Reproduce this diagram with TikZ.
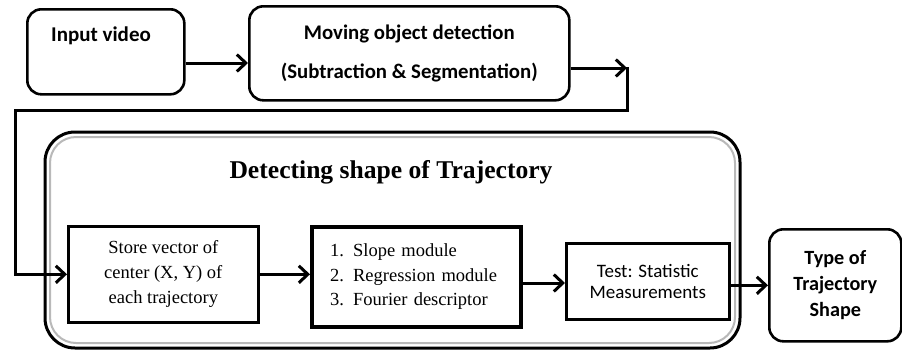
\documentclass[tikz,border=0pt]{standalone}
\usepackage{fontspec}
\setmainfont{Liberation Serif}
\newfontfamily\calfont{Carlito}
\usetikzlibrary{arrows.meta}
\tikzset{
  box/.style={draw=black, line width=2.6pt, inner sep=0pt, anchor=north west},
  rbox/.style={box, rounded corners=14pt},
  arr/.style={line width=3pt, -{Straight Barb[length=9pt,width=17pt,line width=3pt]}},
  conn/.style={line width=3pt, line cap=rect},
  calb/.style={font=\calfont\bfseries\fontsize{21}{26}\selectfont, align=center},
  serif/.style={font=\fontsize{18.5}{25}\selectfont, align=center},
}
\begin{document}
\begin{tikzpicture}[x=1pt,y=-1pt]
\useasboundingbox (0,0) rectangle (902,354);
\fill[white] (0,0) rectangle (902,354);
% top row
\node[rbox, minimum width=157pt, minimum height=85pt] (input) at (26,8) {};
\node[calb] (inputlbl) at (101,36) {Input video};
\node[rbox, minimum width=320pt, minimum height=94pt, calb, font=\calfont\bfseries\fontsize{20.8}{39}\selectfont] (moving) at (248,5) {Moving object detection\\(Subtraction \& Segmentation)};
% outer group
\draw[line width=3pt, rounded corners=30pt] (45,132) rectangle (740,348);
\draw[line width=2pt, gray!55, rounded corners=26pt] (50,137) rectangle (735,343);
\node[font=\bfseries\fontsize{25.6}{29}\selectfont] (title) at (391,172) {Detecting shape of Trajectory};
% inner boxes
\node[box, minimum width=190pt, minimum height=96pt, serif] (store) at (67,225) {Store vector of\\center (X, Y) of\\each trajectory};
\node[box, line width=4pt, minimum width=209pt, minimum height=100pt, text width=173pt, align=left, inner xsep=18pt, font=\fontsize{18.5}{24.5}\selectfont] (list) at (310,225) {1. Slope module\\2. Regression module\\3. Fourier descriptor};
\node[box, minimum width=163pt, minimum height=76pt, font=\calfont\fontsize{19}{21}\selectfont, align=center] (test) at (565,242) {Test: Statistic\\Measurements};
\node[rbox, minimum width=132pt, minimum height=112pt, calb, font=\calfont\bfseries\fontsize{20.2}{26}\selectfont] (type) at (768,228) {Type of\\Trajectory\\Shape};
% helper coordinates
\coordinate (r1) at (0,63);
\coordinate (r2) at (0,68);
\coordinate (r3) at (0,283);
\coordinate (fb1) at (627,68);
\coordinate (fb2) at (15,110);
% connectors
\draw[arr] (input.east |- r1) -- (moving.west |- r1);
\draw[arr] (moving.east |- r2) -- (fb1);
\draw[conn] (fb1) |- (fb2);
\draw[arr] (fb2) |- (store.west);
\draw[arr] (store.east) -- (list.west |- store.east);
\draw[arr] (list.east |- r3) -- (test.west |- r3);
\draw[arr] (test.east |- type.west) -- (type.west);
\end{tikzpicture}
\end{document}
